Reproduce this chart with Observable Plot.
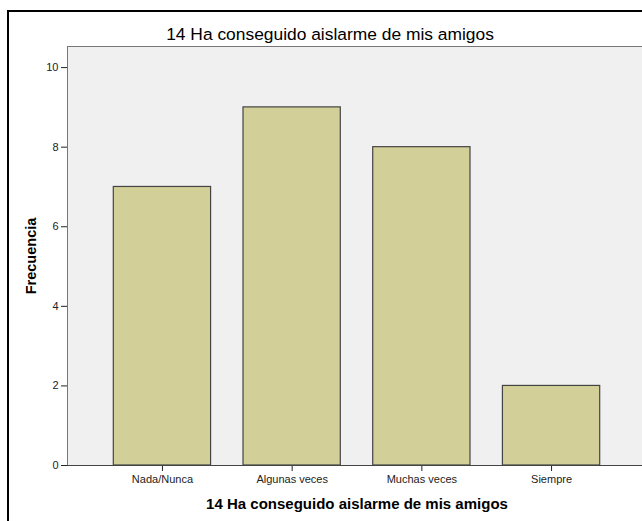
<!DOCTYPE html>
<html><head><meta charset="utf-8">
<script src="https://cdn.jsdelivr.net/npm/d3@7"></script>
<script src="https://cdn.jsdelivr.net/npm/@observablehq/plot@0.6"></script>
<style>
html,body{margin:0;padding:0;background:#fff;overflow:hidden;}
#wrap{position:relative;width:642px;height:521px;overflow:hidden;}
#border{position:absolute;left:7px;top:10px;width:700px;height:600px;border:2px solid #000;box-sizing:border-box;}
#chart{position:absolute;left:0;top:0;width:646px;}
#chart svg{max-width:none !important;}
</style></head>
<body>
<div id="wrap"><div id="chart"></div><div id="border"></div></div>
<script>
const title = "14 Ha conseguido aislarme de mis amigos";
const categories = ["Nada/Nunca", "Algunas veces", "Muchas veces", "Siempre"];
const counts = [7, 9, 8, 2];
const yTicks = [0, 2, 4, 6, 8, 10];

const data = categories.map((c, i) => ({cat: c, n: counts[i]}));

const chart = Plot.plot({
  width: 646,
  height: 521,
  marginLeft: 67,
  marginRight: 0,
  marginTop: 46,
  marginBottom: 56,
  style: {fontFamily: "Liberation Sans, Arial, sans-serif", fontSize: "11px", color: "#222", background: "transparent", overflow: "visible", maxWidth: "none"},
  x: {domain: categories, round: false, paddingInner: 0.25, paddingOuter: 0.357, label: title, labelAnchor: "center", labelOffset: 43, tickSize: 6, tickPadding: 4},
  y: {domain: [0, 10.53], ticks: yTicks, label: "Frecuencia", labelArrow: "none", labelAnchor: "center", labelOffset: 42, tickSize: 6, tickPadding: 3},
  marks: [
    Plot.frame({fill: "#f0f0f0", stroke: "#777"}),
    Plot.barY(data, {x: "cat", y: "n", fill: "#d3cf98", stroke: "#444", strokeWidth: 1.2}),
    Plot.ruleY([0], {stroke: "#444"}),
    Plot.text([title], {frameAnchor: "top", dx: -27, dy: -19, fontSize: 17.4, fill: "#000"})
  ]
});
document.getElementById("chart").appendChild(chart);
chart.querySelectorAll("[aria-label='x-axis label'] text, [aria-label='y-axis label'] text").forEach(t => {
  t.textContent = t.textContent.replace(/\s*[↑→←↓]\s*/g, "");
  t.setAttribute("font-weight", "bold");
  t.setAttribute("font-size", "14.5px");
  t.setAttribute("fill", "#000");
});
chart.querySelectorAll("[aria-label='x-axis label'] text").forEach(t => t.setAttribute("font-size", "15px"));
</script>
</body></html>
